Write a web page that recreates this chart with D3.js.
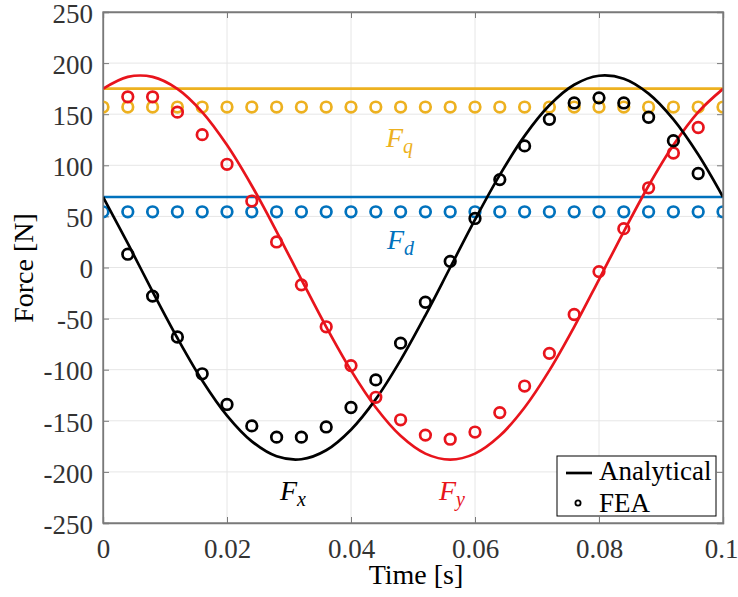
<!DOCTYPE html>
<html>
<head>
<meta charset="utf-8">
<script src="https://cdn.jsdelivr.net/npm/d3@7"></script>
<style>
  html, body { margin: 0; padding: 0; background: #fff; }
  svg { display: block; }
</style>
</head>
<body>
<svg id="chart" width="738" height="597"></svg>
<script>
// Analytical curves, sampled every 4 ms
const tLine = [0, 0.004, 0.008, 0.012, 0.016, 0.020, 0.024, 0.028, 0.032, 0.036, 0.040, 0.044, 0.048,
               0.052, 0.056, 0.060, 0.064, 0.068, 0.072, 0.076, 0.080, 0.084, 0.088, 0.092, 0.096, 0.100];
const fxLine = [69, 23.6, -23.6, -69, -110.5, -144.9, -170.1, -184.7, -187.6, -178.8, -158.7, -128.8, -90.6,
                -46.8, 0, 46.8, 90.6, 128.8, 158.7, 178.8, 187.6, 184.7, 170.1, 144.9, 110.5, 69];
const fyLine = [174.8, 186.5, 186.5, 174.8, 152.1, 119.8, 80.0, 35.2, -11.8, -58.1, -100.7, -137, -164.7,
                -182.1, -188, -182.1, -164.7, -137, -100.7, -58.1, -11.8, 35.2, 80.0, 119.8, 152.1, 174.8];
const fdLine = [69, 69];
const fqLine = [175, 175];
const tEnds = [0, 0.1];

// FEA results
const tFEA = [0.004, 0.008, 0.012, 0.016, 0.020, 0.024, 0.028, 0.032, 0.036, 0.040, 0.044, 0.048,
              0.052, 0.056, 0.060, 0.064, 0.068, 0.072, 0.076, 0.080, 0.084, 0.088, 0.092, 0.096];
const fxFEA = [13, -28, -68, -104, -134, -155, -166, -166, -156, -137, -110, -74,
               -34, 6, 48, 86, 119, 145, 161, 166, 161, 147, 124, 92];
const fyFEA = [167, 167, 152, 130, 101, 65, 25, -17, -58, -96, -127, -149,
               -164, -168, -161, -142, -116, -84, -46, -4, 38, 78, 112, 137];
const tDQ = tLine;
const fdFEA = Array(26).fill(54.5);
const fqFEA = Array(26).fill(157);

const xTicks = [0, 0.02, 0.04, 0.06, 0.08, 0.1];
const yTicks = [-250, -200, -150, -100, -50, 0, 50, 100, 150, 200, 250];

const colors = { fx: "#000000", fy: "#e8141c", fd: "#0072BD", fq: "#EDB120" };
const serif = "'Liberation Serif', 'Times New Roman', serif";

const svg = d3.select("#chart").style("font-family", serif);
const m = { left: 103, right: 723, top: 12, bottom: 523 };

const x = d3.scaleLinear().domain([0, 0.1]).range([m.left, m.right]);
const y = d3.scaleLinear().domain([-250, 250]).range([m.bottom, m.top]);

// grid
const grid = svg.append("g");
grid.selectAll("line.gx").data(xTicks).join("line")
  .attr("x1", d => x(d)).attr("x2", d => x(d)).attr("y1", m.top).attr("y2", m.bottom)
  .attr("stroke", "#e6e6e6").attr("stroke-width", 1);
grid.selectAll("line.gy").data(yTicks).join("line")
  .attr("y1", d => y(d)).attr("y2", d => y(d)).attr("x1", m.left).attr("x2", m.right)
  .attr("stroke", "#e6e6e6").attr("stroke-width", 1);

const axisColor = "#7a7a7a";
const plain = d => String(+d.toFixed(2));
// axes with inward ticks
const gx = svg.append("g").attr("transform", `translate(0,${m.bottom})`)
  .call(d3.axisBottom(x).tickValues(xTicks).tickSize(-6).tickPadding(16).tickFormat(plain));
const gxTop = svg.append("g").attr("transform", `translate(0,${m.top})`)
  .call(d3.axisTop(x).tickValues(xTicks).tickSize(-6).tickFormat(""));
const gy = svg.append("g").attr("transform", `translate(${m.left},0)`)
  .call(d3.axisLeft(y).tickValues(yTicks).tickSize(-6).tickPadding(10).tickFormat(plain));
const gyR = svg.append("g").attr("transform", `translate(${m.right},0)`)
  .call(d3.axisRight(y).tickValues(yTicks).tickSize(-6).tickFormat(""));

[gx, gxTop, gy, gyR].forEach(g => {
  g.attr("font-family", null).style("font-family", serif);
  g.selectAll("path.domain").attr("stroke", axisColor).attr("stroke-width", 1.3);
  g.selectAll(".tick line").attr("stroke", axisColor).attr("stroke-width", 1);
  g.selectAll("text").attr("fill", "#333").attr("font-size", 27).style("font-family", serif);
});
gx.selectAll("text").attr("dy", "0.71em");
// keep the last x label inside the page
gx.selectAll(".tick").filter(d => d === 0.1).select("text").attr("text-anchor", "end").attr("x", 15);
gy.selectAll("text").attr("dy", "0.38em");

// clip to plot area
svg.append("clipPath").attr("id", "clip").append("rect")
  .attr("x", m.left).attr("y", m.top).attr("width", m.right - m.left).attr("height", m.bottom - m.top);

const plot = svg.append("g").attr("clip-path", "url(#clip)");
const line = d3.line().curve(d3.curveCatmullRom.alpha(0.5));

function drawLine(ts, vs, color) {
  plot.append("path")
    .attr("d", line(ts.map((t, i) => [x(t), y(vs[i])])))
    .attr("fill", "none").attr("stroke", color).attr("stroke-width", 2.7);
}
function drawCircles(ts, vs, color) {
  plot.append("g").selectAll("circle").data(ts).join("circle")
    .attr("cx", t => x(t)).attr("cy", (t, i) => y(vs[i])).attr("r", 5.3)
    .attr("fill", "none").attr("stroke", color).attr("stroke-width", 2.7);
}

drawLine(tEnds, fqLine, colors.fq);
drawLine(tEnds, fdLine, colors.fd);
drawCircles(tDQ, fqFEA, colors.fq);
drawCircles(tDQ, fdFEA, colors.fd);
drawLine(tLine, fyLine, colors.fy);
drawLine(tLine, fxLine, colors.fx);
drawCircles(tFEA, fyFEA, colors.fy);
drawCircles(tFEA, fxFEA, colors.fx);

// box border on top
svg.append("rect").attr("x", m.left).attr("y", m.top)
  .attr("width", m.right - m.left).attr("height", m.bottom - m.top)
  .attr("fill", "none").attr("stroke", axisColor).attr("stroke-width", 1.3);

// series labels
function seriesLabel(px, py, sub, color) {
  const t = svg.append("text").attr("x", px).attr("y", py)
    .attr("fill", color).attr("font-style", "italic").attr("font-size", 28)
    .style("font-family", serif);
  t.append("tspan").text("F");
  t.append("tspan").text(sub).attr("font-size", 20).attr("dy", 6);
}
seriesLabel(386, 147, "q", colors.fq);
seriesLabel(387, 249, "d", colors.fd);
seriesLabel(280, 500, "x", colors.fx);
seriesLabel(439, 500, "y", colors.fy);

// axis titles
svg.append("text").attr("x", 416).attr("y", 584).attr("text-anchor", "middle")
  .attr("font-size", 28).attr("fill", "#000").style("font-family", serif).text("Time [s]");
svg.append("text").attr("transform", "translate(33,268) rotate(-90)").attr("text-anchor", "middle")
  .attr("font-size", 28).attr("fill", "#000").style("font-family", serif).text("Force [N]");

// legend
const lg = svg.append("g").style("font-family", serif);
lg.append("rect").attr("x", 557).attr("y", 456).attr("width", 159).attr("height", 60)
  .attr("fill", "#fff").attr("stroke", "#000").attr("stroke-width", 1);
lg.append("line").attr("x1", 566).attr("x2", 592).attr("y1", 473).attr("y2", 473)
  .attr("stroke", "#000").attr("stroke-width", 2.7);
lg.append("circle").attr("cx", 578).attr("cy", 503).attr("r", 2.6)
  .attr("fill", "none").attr("stroke", "#000").attr("stroke-width", 1.8);
lg.append("text").attr("x", 599).attr("y", 480).attr("font-size", 27).attr("fill", "#000").text("Analytical");
lg.append("text").attr("x", 599).attr("y", 512).attr("font-size", 27).attr("fill", "#000").text("FEA");
</script>
</body>
</html>
